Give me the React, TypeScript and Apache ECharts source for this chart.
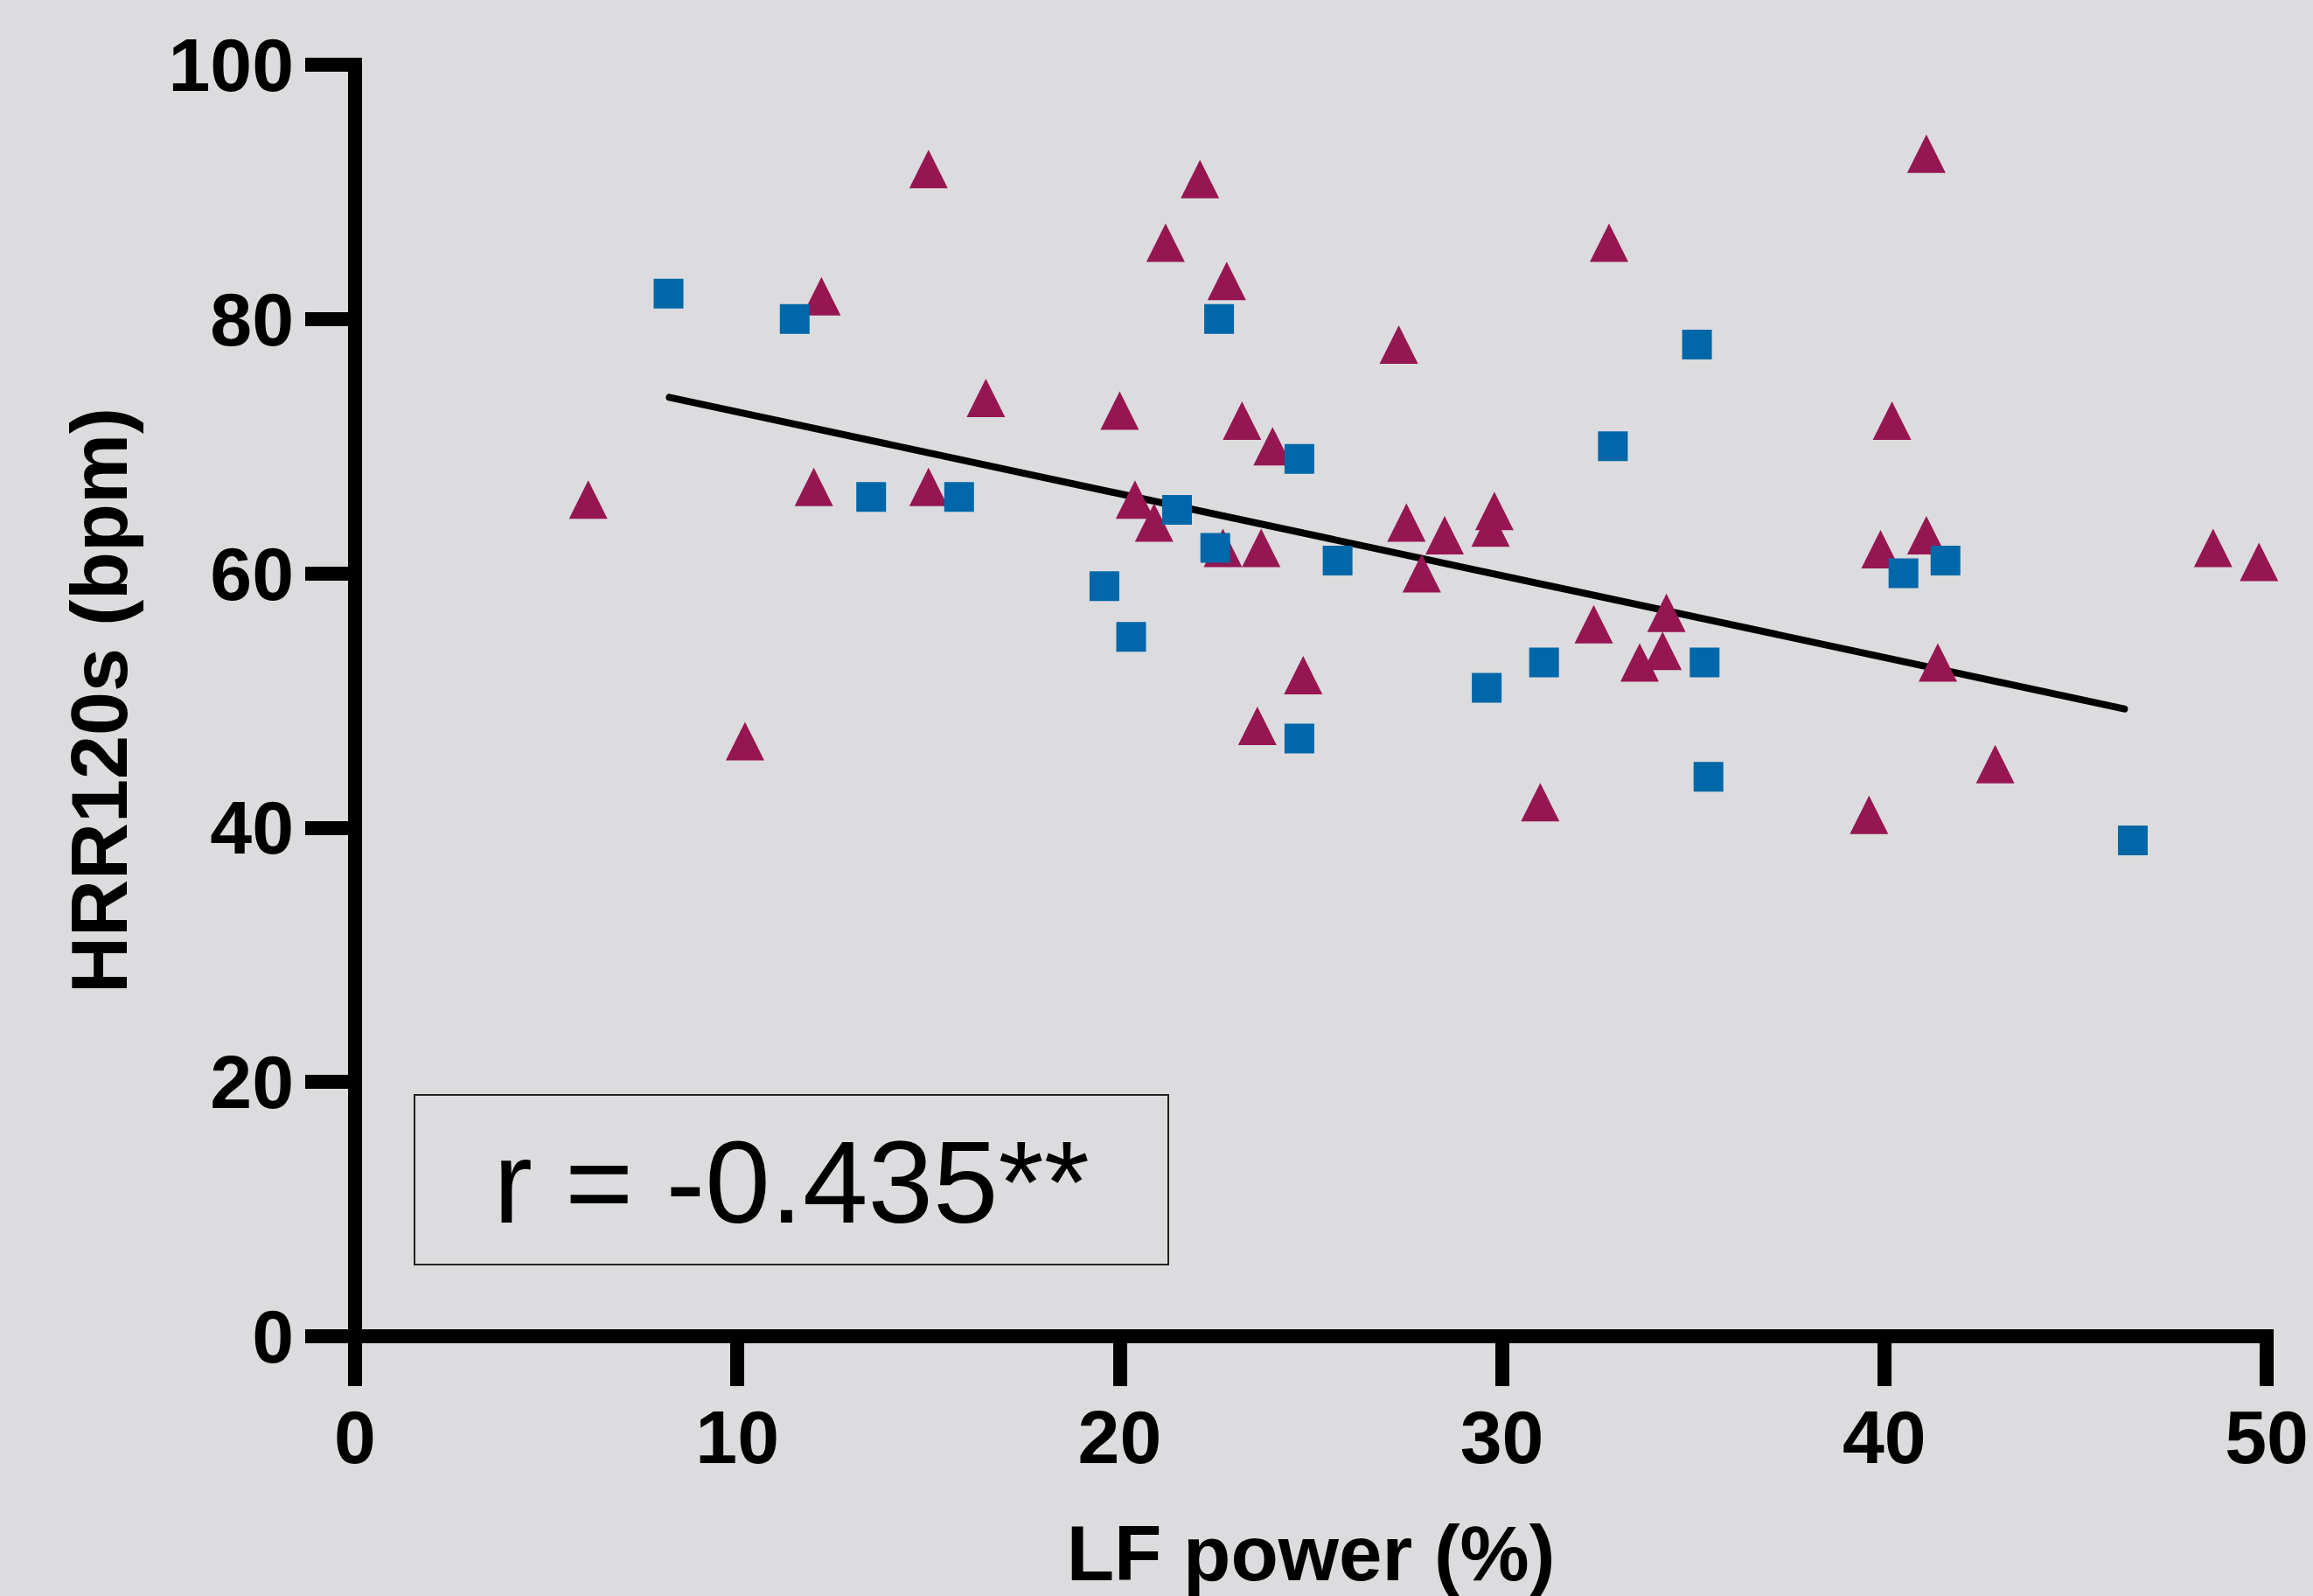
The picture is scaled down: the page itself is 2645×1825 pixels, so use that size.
import React, { useEffect, useRef } from "react";
import * as echarts from "echarts";

const xTicks = [0, 10, 20, 30, 40, 50];
const yTicks = [0, 20, 40, 60, 80, 100];

// Blue squares: [LF power %, HRR120s bpm]
const squarePoints: [number, number][] = [
  [8.2, 82], [11.5, 80], [13.5, 66], [15.8, 66], [19.6, 59], [20.3, 55],
  [21.5, 65], [22.6, 80], [22.5, 62], [24.7, 69], [24.7, 47], [25.7, 61],
  [29.6, 51], [31.1, 53], [32.9, 70], [35.1, 78], [35.3, 53], [35.4, 44],
  [40.5, 60], [41.6, 61], [46.5, 39],
];

// Maroon triangles: [LF power %, HRR120s bpm]
const trianglePoints: [number, number][] = [
  [6.1, 65.8], [10.2, 46.8], [12.0, 66.8], [12.2, 81.8], [15.0, 91.8], [15.0, 66.8],
  [16.5, 73.8], [20.0, 72.8], [20.4, 65.8], [20.9, 64], [21.2, 86], [22.1, 91],
  [22.8, 83], [22.7, 62], [23.2, 72], [23.6, 48], [23.7, 62], [24.0, 70],
  [24.8, 52], [27.3, 78], [27.5, 64], [27.9, 60], [28.5, 63], [29.7, 63.6],
  [29.8, 64.9], [31.0, 42], [32.4, 56], [32.8, 86], [33.6, 53], [34.2, 53.9],
  [34.3, 56.9], [39.6, 41], [39.9, 61.9], [40.2, 72], [41.1, 63], [41.1, 93],
  [41.4, 53], [42.9, 45], [48.6, 62], [49.8, 60.9],
];

// Fitted regression line endpoints
const fitLine: [number, number][] = [
  [8.22, 73.84],
  [46.28, 49.34],
];

const correlationLabel = "r = -0.435**";

const FONT = "'Liberation Sans', Arial, Helvetica, sans-serif";

export default function App() {
  const ref = useRef<HTMLDivElement>(null);

  useEffect(() => {
    document.body.style.margin = "0";
    document.body.style.background = "#dcdcde";
    if (!ref.current) return;
    const chart = echarts.init(ref.current, undefined, { renderer: "svg" });
    const axisCommon = {
      axisLine: {
        show: true,
        lineStyle: { color: "#000", width: 16, cap: "square" as const },
      },
      axisTick: {
        show: true,
        inside: false,
        length: 57,
        lineStyle: { color: "#000", width: 16 },
      },
      splitLine: { show: false },
      nameTextStyle: {
        fontFamily: FONT,
        fontWeight: "bold" as const,
        fontSize: 89,
        color: "#000",
      },
    };
    chart.setOption({
      animation: false,
      backgroundColor: "#dcdcde",
      grid: { left: 406, right: 53, top: 74, bottom: 294, containLabel: false },
      xAxis: {
        type: "value",
        min: xTicks[0],
        max: xTicks[xTicks.length - 1],
        interval: 10,
        name: "LF power (%)",
        nameLocation: "middle",
        nameGap: 203,
        ...axisCommon,
        axisLabel: {
          margin: 72,
          fontFamily: FONT,
          fontWeight: "bold",
          fontSize: 86,
          color: "#000",
        },
      },
      yAxis: {
        type: "value",
        min: yTicks[0],
        max: yTicks[yTicks.length - 1],
        interval: 20,
        name: "HRR120s (bpm)",
        nameLocation: "middle",
        nameRotate: 90,
        nameGap: 247,
        ...axisCommon,
        nameTextStyle: { ...axisCommon.nameTextStyle, fontSize: 90 },
        axisLabel: {
          margin: 70,
          fontFamily: FONT,
          fontWeight: "bold",
          fontSize: 86,
          color: "#000",
        },
      },
      series: [
        {
          type: "line",
          data: fitLine,
          showSymbol: false,
          symbol: "none",
          lineStyle: { color: "#000", width: 8, cap: "round" },
          z: 1,
        },
        {
          type: "scatter",
          data: trianglePoints,
          symbol: "triangle",
          symbolSize: [44, 44],
          itemStyle: { color: "#961651", opacity: 1 },
          z: 2,
        },
        {
          type: "scatter",
          data: squarePoints,
          symbol: "rect",
          symbolSize: 34,
          itemStyle: { color: "#0067a9", opacity: 1 },
          z: 3,
        },
      ],
      graphic: [
        {
          type: "rect",
          shape: { x: 474, y: 1252, width: 862, height: 194 },
          style: { fill: "none", stroke: "#222", lineWidth: 2 },
          z: 10,
        },
        {
          type: "text",
          x: 905,
          y: 1351,
          style: {
            text: correlationLabel,
            fontFamily: FONT,
            fontSize: 134,
            fill: "#000",
            align: "center",
            verticalAlign: "middle",
          },
          z: 10,
        },
      ],
    });
    return () => chart.dispose();
  }, []);

  return <div ref={ref} style={{ width: 2645, height: 1825 }} />;
}
